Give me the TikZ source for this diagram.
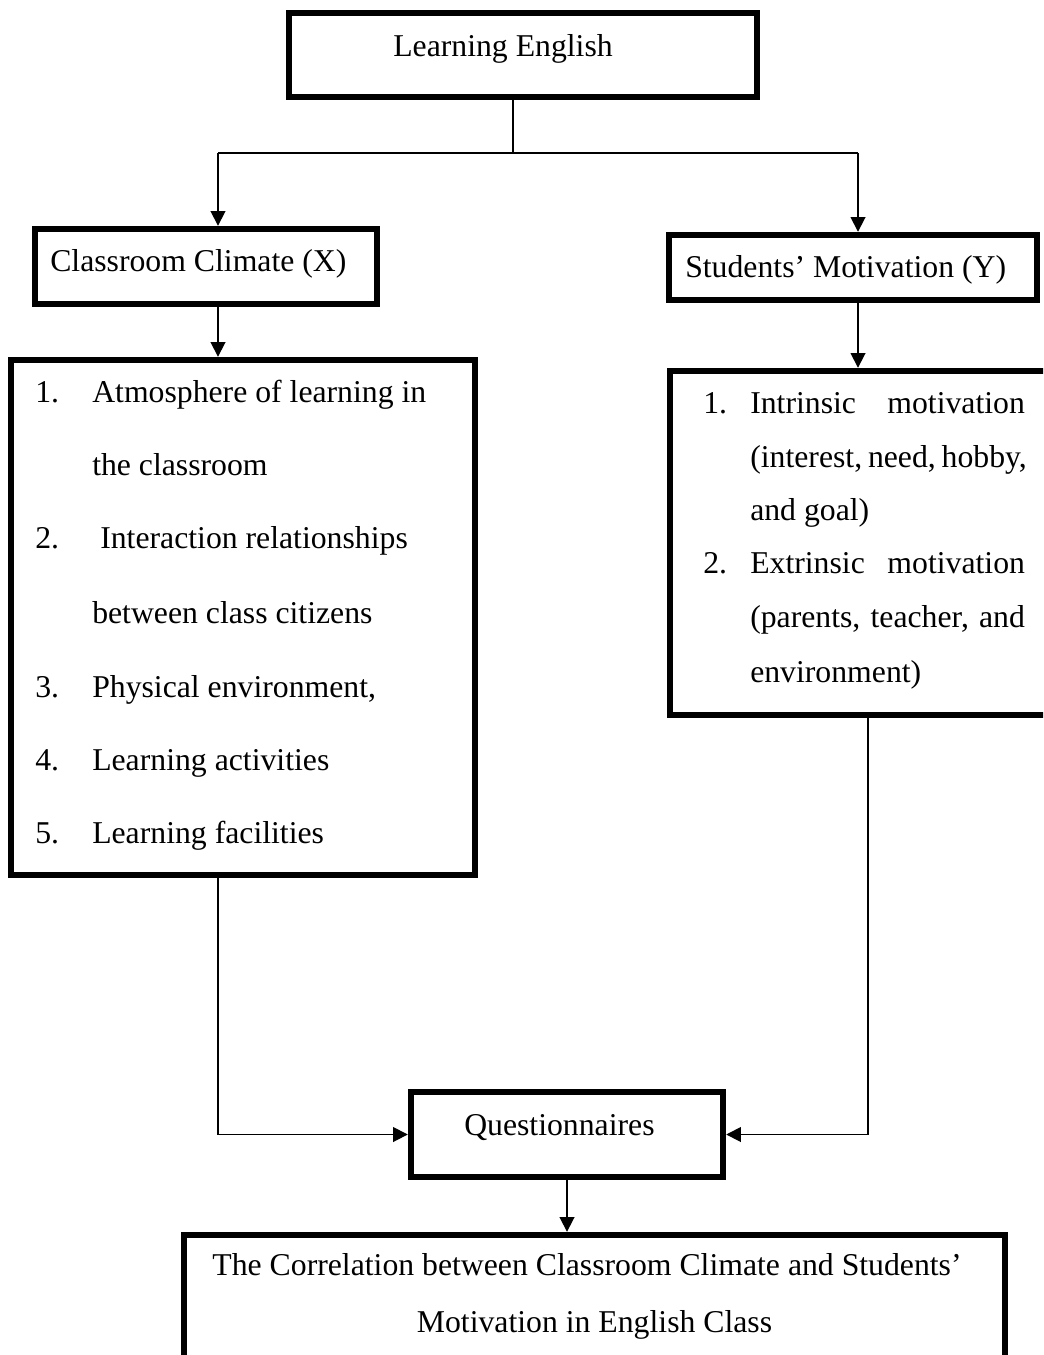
\documentclass[tikz,border=0pt]{standalone}
\usepackage{fontspec}
\setmainfont{Liberation Serif}
\usetikzlibrary{arrows.meta}
\begin{document}
\begin{tikzpicture}[x=0.75pt,y=-0.75pt,
  box/.style={draw, line width=4.8pt, rectangle, inner sep=0pt},
  arr/.style={line width=1.3pt, -{Triangle[width=11pt,length=11pt]}},
  conn/.style={line width=1.3pt},
  txt/.style={anchor=base west, inner sep=0pt, font=\fontsize{23.8}{28}\selectfont},
  ctxt/.style={anchor=base, inner sep=0pt, font=\fontsize{23.8}{28}\selectfont}]
\useasboundingbox (0,0) rectangle (1043,1355);
\clip (0,0) rectangle (1043,1355);
\fill[white] (0,0) rectangle (1043,1355);

% boxes
\node[box, minimum width=351pt, minimum height=63pt] (le) at (523,55) {};
\node[box, minimum width=256.5pt, minimum height=56.25pt] (cc) at (206,266.5) {};
\node[box, minimum width=276pt, minimum height=48.75pt] (sm) at (853,267.5) {};
\node[box, minimum width=348pt, minimum height=386.25pt] (ll) at (243,617.5) {};
\node[box, minimum width=292.5pt, minimum height=258pt] (rl) at (865,543) {};
\node[box, minimum width=234pt, minimum height=63.75pt] (q) at (567,1134.5) {};
\node[box, minimum width=615.75pt, minimum height=123.75pt] (fb) at (594.5,1317.5) {};

% texts
\node[txt] (tle) at (393,57) {Learning English};
\node[txt] (tcc) at (50,272) {Classroom Climate (X)};
\node[txt] (tsm) at (685,277) {Students’ Motivation (Y)};

\node[txt] (n1) at (35,402) {1.};
\node[txt] (l1a) at (92,402) {Atmosphere of learning in};
\node[txt] (l1b) at (92,475) {the classroom};
\node[txt] (n2) at (35,548) {2.};
\node[txt] (l2a) at (100,548) {Interaction relationships};
\node[txt] (l2b) at (92,623) {between class citizens};
\node[txt] (n3) at (35,697) {3.};
\node[txt] (l3) at (92,697) {Physical environment,};
\node[txt] (n4) at (35,770) {4.};
\node[txt] (l4) at (92,770) {Learning activities};
\node[txt] (n5) at (35,843) {5.};
\node[txt] (l5) at (92,843) {Learning facilities};

\node[txt] (m1) at (703,413) {1.};
\node[txt] (r1a) at (750,413) {\makebox[206pt][s]{Intrinsic motivation}};
\node[txt] (r1b) at (750,467) {\makebox[206pt][s]{(interest, need, hobby,}};
\node[txt] (r1c) at (750,520) {and goal)};
\node[txt] (m2) at (703,573) {2.};
\node[txt] (r2a) at (750,573) {\makebox[206pt][s]{Extrinsic motivation}};
\node[txt] (r2b) at (750,627) {\makebox[206pt][s]{(parents, teacher, and}};
\node[txt] (r2c) at (750,682) {environment)};

\node[txt] (tq) at (464,1135) {Questionnaires};
\node[ctxt] (tf1) at (587,1275) {The Correlation between Classroom Climate and Students’};
\node[ctxt] (tf2) at (594.5,1332) {Motivation in English Class};

% connectors
\coordinate (j) at (513,153);
\coordinate (jl) at (218,153);
\coordinate (jr) at (858,153);
\coordinate (rc) at (868,1132);
\draw[conn] (le.south -| j) -- (j);
\draw[conn] (jl) -- (jr);
\draw[arr] (jl) -- (jl |- cc.north);
\draw[arr] (jr) -- (jr |- sm.north);
\draw[arr] (cc.south -| jl) -- (ll.north -| jl);
\draw[arr] (sm.south -| jr) -- (rl.north -| jr);
\draw[arr] (ll.south -| jl) |- (q.west);
\draw[arr] (rl.south -| rc) |- (q.east);
\draw[arr] (q.south) -- (fb.north -| q.south);
\end{tikzpicture}
\end{document}
